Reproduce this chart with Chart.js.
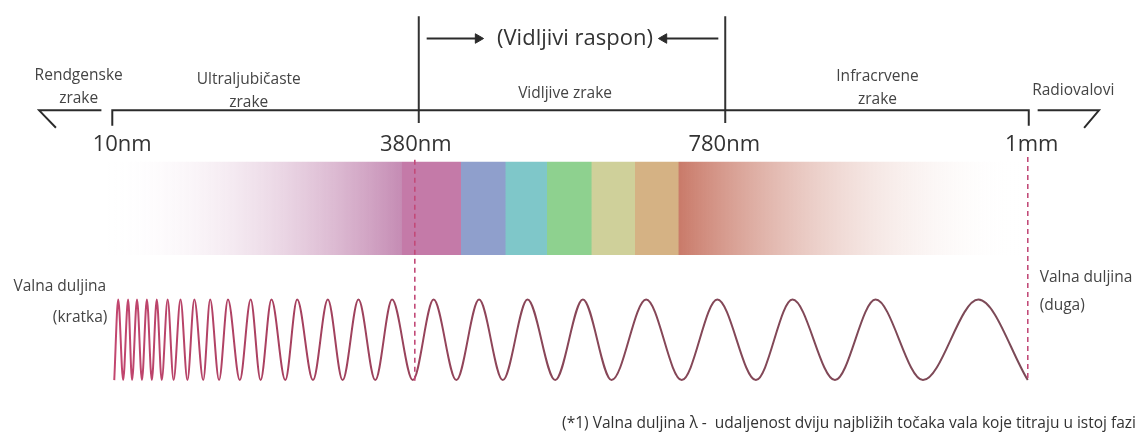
<!DOCTYPE html>
<html>
<head>
<meta charset="utf-8">
<title>Spektar elektromagnetskog zračenja</title>
<script src="https://cdn.jsdelivr.net/npm/chart.js@4.4.1/dist/chart.umd.min.js"></script>
<style>
  html, body { margin: 0; padding: 0; background: #fff; }
  #wrap { width: 1145px; height: 439px; }
</style>
</head>
<body>
<div id="wrap"><canvas id="spectrum" width="1145" height="439"></canvas></div>
<script>
/* ============================================================
   Spektar — Chart.js diagram (axis, colour band, wave)
   ============================================================ */

// wavelength marks along the spectrum line (diagram units)
const tickValues = [107, 417, 727, 1034];
const tickLabels = ['10nm', '380nm', '780nm', '1mm'];

// region names above the line
const regionLabels = [
  ['Rendgenske', 'zrake'],
  ['Ultraljubičaste', 'zrake'],
  ['Vidljive zrake'],
  ['Infracrvene', 'zrake'],
  ['Radiovalovi']
];

// visible range bracket (380nm .. 780nm)
const visibleRange = [417, 727];
const visibleLabel = '(Vidljivi raspon)';

// colour band segments: UV fade, violet, blue, cyan, green, yellow, orange, IR fade
const bandEdges = [100, 400, 460, 505, 547, 592, 636, 680, 1025];

// wave crests / troughs
const waveCrests = [113, 123, 132, 142, 152, 163, 176, 190, 206, 224, 247, 268, 294,
  325, 356, 390, 432, 478, 527, 583, 647, 719, 795, 879, 983];
const waveTroughs = [109, 118, 127, 137, 147, 157, 169, 183, 199, 215, 236, 257, 282,
  310, 340, 373, 411, 455, 502, 555, 612, 683, 758, 838, 927, 1033];

const waveLabels = [['Valna duljina', '(kratka)'], ['Valna duljina', '(duga)']];
const footnote = '(*1) Valna duljina λ -  udaljenost dviju najbližih točaka vala koje titraju u istoj fazi';

/* ── Layout & style ── */
const W = 1145, H = 439;
const INK = '#2b2b2b';
const TEXT = '#3a3a3a';
const GUIDE = '#c24a78';
const FONT = '"Open Sans", "DejaVu Sans", sans-serif';

const LAYOUT = {
  axisY: 107, tickEnd: 123,
  leftStub: [[96, 107], [33, 107], [50, 125]],
  rightStub: [[1043, 107], [1105, 107], [1090, 125]],
  rangeTop: 10, rangeBottom: 120,
  arrowY: 33, arrows: [[425, 477, 90], [720, 665, -90]],
  bandTop: 160, bandBottom: 256,
  guides: [[413, 158, 388], [1033, 155, 387]],
  waveCrest: 302, waveTrough: 385,
  tickLabelY: 142, tickLabelDx: [10, -3, -1, 3],
  regionPos: [[73, 71], [245, 75], [565, 90], [881, 72], [1079, 87]],
  lineGap: 24
};

const BAND_COLORS = [
  ['rgba(255,255,255,0)', '#c58cb4'],
  ['#c47aa8', '#c47aa8'],
  ['#8f9fcc', '#8f9fcc'],
  ['#7fc7c9', '#7fc7c9'],
  ['#8ed18f', '#8ed18f'],
  ['#cfd09a', '#cfd09a'],
  ['#d5b284', '#d5b284'],
  ['#c97a69', 'rgba(255,255,255,0)']
];

/* ── helpers ── */
function pts(list) {
  return list.map(([x, y]) => ({ x, y }));
}

function line(data, extra) {
  return Object.assign({
    data, borderColor: INK, borderWidth: 2, pointRadius: 0,
    fill: false, tension: 0
  }, extra);
}

let bandGradient = null, waveGradient = null;

function bandFill(ctx) {
  const chart = ctx.chart;
  if (!chart.chartArea) return null;
  if (bandGradient) return bandGradient;
  const sx = chart.scales.x;
  const x0 = sx.getPixelForValue(bandEdges[0]);
  const x1 = sx.getPixelForValue(bandEdges[bandEdges.length - 1]);
  const g = chart.ctx.createLinearGradient(x0, 0, x1, 0);
  const off = v => Math.min(1, Math.max(0, (sx.getPixelForValue(v) - x0) / (x1 - x0)));
  for (let i = 0; i < BAND_COLORS.length; i++) {
    g.addColorStop(off(bandEdges[i]), BAND_COLORS[i][0]);
    g.addColorStop(off(bandEdges[i + 1] - 0.5), BAND_COLORS[i][1]);
  }
  bandGradient = g;
  return g;
}

function waveStroke(ctx) {
  const chart = ctx.chart;
  if (!chart.chartArea) return '#8a4658';
  if (waveGradient) return waveGradient;
  const sx = chart.scales.x;
  const g = chart.ctx.createLinearGradient(sx.getPixelForValue(waveTroughs[0]), 0,
    sx.getPixelForValue(waveTroughs[waveTroughs.length - 1]), 0);
  g.addColorStop(0, '#c2466f');
  g.addColorStop(0.18, '#a8405f');
  g.addColorStop(0.45, '#8a4658');
  g.addColorStop(1, '#7b4a57');
  waveGradient = g;
  return g;
}

/* ── datasets ── */
const wavePoints = [
  ...waveCrests.map(x => ({ x, y: LAYOUT.waveCrest })),
  ...waveTroughs.map(x => ({ x, y: LAYOUT.waveTrough }))
].sort((a, b) => a.x - b.x);

const L = LAYOUT;
const first = tickValues[0], last = tickValues[tickValues.length - 1];

const datasets = [
  // spectrum line with end ticks
  line(pts([[first, L.tickEnd], [first, L.axisY], [last, L.axisY], [last, L.tickEnd]])),
  line(pts(L.leftStub)),
  line(pts(L.rightStub)),
  // visible range bracket
  ...visibleRange.map(v => line(pts([[v, L.rangeTop], [v, L.rangeBottom]]), { borderColor: '#333' })),
  ...L.arrows.map(([a, b, rot]) => line(pts([[a, L.arrowY], [b, L.arrowY]]), {
    borderWidth: 2,
    pointStyle: 'triangle',
    pointRadius: [0, 5.5],
    pointRotation: rot,
    pointBackgroundColor: INK,
    pointBorderColor: INK,
    pointBorderWidth: 1
  })),
  // dashed guides (380nm, 1mm)
  ...L.guides.map(([gx, y0, y1]) => line(pts([[gx, y0], [gx, y1]]), {
    borderColor: GUIDE, borderWidth: 1.6, borderDash: [5, 4]
  })),
  // wave
  line(wavePoints, {
    borderColor: waveStroke, borderWidth: 2,
    cubicInterpolationMode: 'monotone'
  }),
  // colour band (fill only)
  line(pts([[bandEdges[0], L.bandTop], [bandEdges[bandEdges.length - 1], L.bandTop]]), {
    borderWidth: 0, borderColor: 'rgba(0,0,0,0)',
    fill: { value: L.bandBottom }, backgroundColor: bandFill
  })
];

/* ── text layer ── */
const textPlugin = {
  id: 'diagramText',
  afterDatasetsDraw(chart) {
    const { ctx } = chart;
    const sx = chart.scales.x, sy = chart.scales.y;
    ctx.save();
    const put = (text, vx, vy, size, align = 'center', color = TEXT, maxW) => {
      ctx.font = size + 'px ' + FONT;
      ctx.fillStyle = color;
      ctx.textAlign = align;
      ctx.textBaseline = 'middle';
      if (maxW) ctx.fillText(text, sx.getPixelForValue(vx), sy.getPixelForValue(vy), maxW);
      else ctx.fillText(text, sx.getPixelForValue(vx), sy.getPixelForValue(vy));
    };

    tickLabels.forEach((t, i) => put(t, tickValues[i] + L.tickLabelDx[i], L.tickLabelY, 22, 'center', '#333'));

    regionLabels.forEach((lines, i) => {
      const [cx, cy] = L.regionPos[i];
      lines.forEach((t, k) => put(t, cx, cy + k * L.lineGap, 15.5, 'center', '#444'));
    });

    put(visibleLabel, 575, L.arrowY, 22, 'center', '#333');

    put(waveLabels[0][0], 7, 289, 15.5, 'left', '#444');
    put(waveLabels[0][1], 102, 321, 15.5, 'right', '#444');
    put(waveLabels[1][0], 1045, 279, 15.5, 'left', '#444');
    put(waveLabels[1][1], 1045, 308, 15.5, 'left', '#444');

    put(footnote, 562, 430, 15.5, 'left', '#333', 582);
    ctx.restore();
  }
};

new Chart(document.getElementById('spectrum'), {
  type: 'line',
  data: { datasets },
  options: {
    responsive: false,
    maintainAspectRatio: false,
    animation: false,
    devicePixelRatio: 1,
    events: [],
    layout: { padding: 0 },
    plugins: {
      legend: { display: false },
      tooltip: { enabled: false },
      filler: { drawTime: 'beforeDatasetsDraw' }
    },
    scales: {
      x: { type: 'linear', min: 0, max: W, display: false },
      y: { type: 'linear', min: 0, max: H, reverse: true, display: false }
    }
  },
  plugins: [textPlugin]
});
</script>
</body>
</html>
